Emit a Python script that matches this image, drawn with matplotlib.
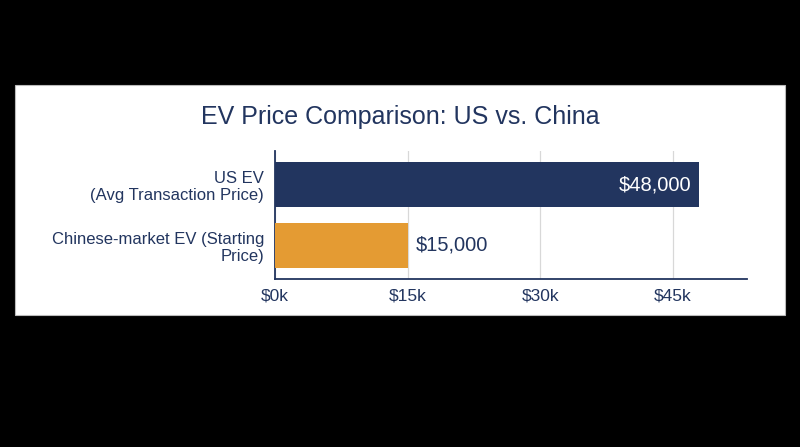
import matplotlib.pyplot as plt
from matplotlib.patches import Rectangle
from matplotlib.ticker import FuncFormatter

categories = ["US EV\n(Avg Transaction Price)", "Chinese-market EV (Starting\nPrice)"]
prices = [48000, 15000]
bar_labels = ["$48,000", "$15,000"]
xticks = [0, 15000, 30000, 45000]

navy = "#22355f"
orange = "#e49b33"
plt.rcParams["font.family"] = ["Liberation Sans", "DejaVu Sans"]

fig = plt.figure(figsize=(8, 4.47), dpi=100)
fig.patch.set_facecolor("black")

# white card behind the chart
fig.patches.append(Rectangle((0.019, 0.296), 0.962, 0.514, transform=fig.transFigure,
                             facecolor="white", edgecolor="#bbbbbb", linewidth=0.8, zorder=-1))

ax = fig.add_axes([0.344, 0.376, 0.59, 0.286])
ax.set_facecolor("white")

ypos = [0, 1]
ax.barh(ypos, prices, height=0.75, color=[navy, orange], zorder=3)
ax.set_ylim(1.55, -0.55)
ax.set_xlim(0, 53400)

ax.set_yticks(ypos)
ax.set_yticklabels(categories, fontsize=12, color=navy, linespacing=1.15)
ax.set_xticks(xticks)
ax.xaxis.set_major_formatter(FuncFormatter(lambda v, p: f"${v/1000:.0f}k"))
ax.tick_params(axis="x", length=0, pad=7, labelsize=12.5, labelcolor=navy)
ax.tick_params(axis="y", length=0, pad=8)

ax.grid(axis="x", color="#d8d8d8", linewidth=0.9, zorder=0)
for s in ["top", "right"]:
    ax.spines[s].set_visible(False)
for s in ["left", "bottom"]:
    ax.spines[s].set_color(navy)
    ax.spines[s].set_linewidth(1.3)

# value labels
ax.text(prices[0] - 900, ypos[0], bar_labels[0], ha="right", va="center",
        color="white", fontsize=14.5, zorder=4)
ax.text(prices[1] + 900, ypos[1], bar_labels[1], ha="left", va="center",
        color=navy, fontsize=14.5, zorder=4)

fig.text(0.5, 0.738, "EV Price Comparison: US vs. China", ha="center", va="center",
         fontsize=18, color=navy)

fig.savefig("out.png", dpi=100, facecolor=fig.get_facecolor())
